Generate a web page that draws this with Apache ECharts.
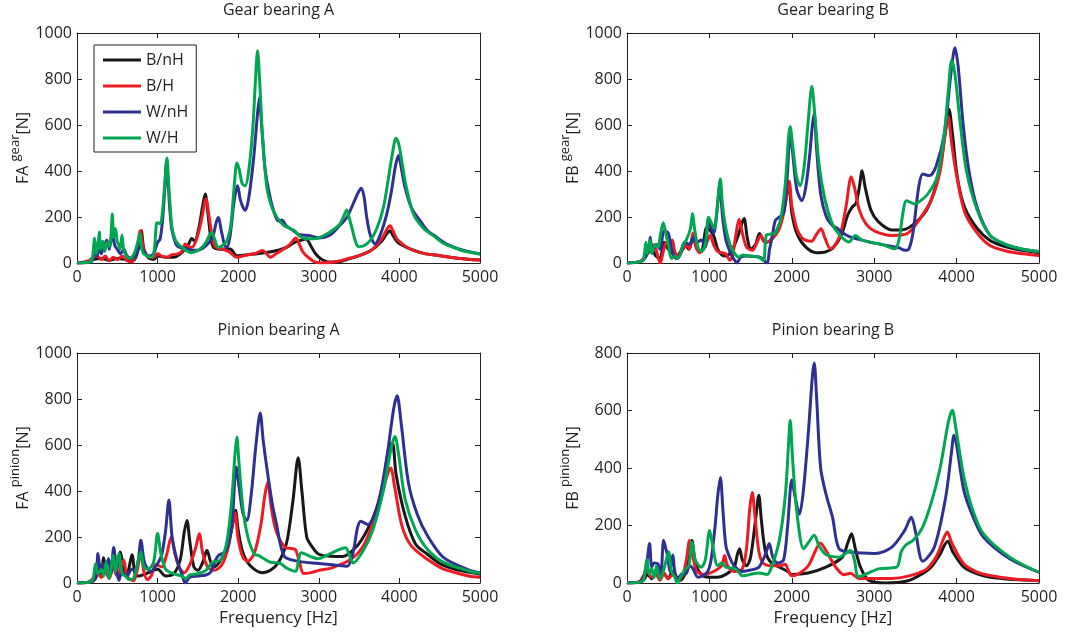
<!DOCTYPE html>
<html>
<head>
<meta charset="utf-8">
<script src="https://cdn.jsdelivr.net/npm/echarts@6/dist/echarts.min.js"></script>
<style>
  html, body { margin: 0; background: #fff; }
  #chart { width: 1070px; height: 632px; }
</style>
</head>
<body>
<div id="chart"></div>
<script>
// series names / colours
const seriesNames = ['B/nH', 'B/H', 'W/nH', 'W/H'];
const seriesColors = ['#1a1718', '#ed1c24', '#2e3192', '#00a651'];

const panelTitles = ['Gear bearing A', 'Gear bearing B', 'Pinion bearing A', 'Pinion bearing B'];
const yPrefix = ['FA', 'FB', 'FA', 'FB'];
const ySup = ['gear', 'gear', 'pinion', 'pinion'];
const yMax = [1000, 1000, 1000, 800];
const yStep = 200;
const xMax = 5000;
const xStep = 1000;

// ---- Gear bearing A ----
const gearA_BnH = [[0,0],[150,5],[200,15],[300,20],[400,12],[500,20],[600,15],[700,10],[760,60],[797,140],[830,60],[880,25],[950,15],[1000,30],[1100,25],[1200,25],[1300,45],[1380,80],[1425,107],[1460,95],[1510,150],[1560,250],[1591,300],[1620,230],[1660,110],[1694,68],[1780,60],[1900,61],[1983,32],[2100,35],[2300,43],[2450,52],[2600,68],[2700,90],[2790,100],[2843,104],[2900,75],[2960,40],[3037,15],[3150,3],[3250,5],[3350,15],[3500,32],[3650,55],[3780,95],[3850,130],[3884,140],[3920,120],[3980,90],[4132,61],[4300,42],[4500,32],[4750,20],[5000,13]];
const gearA_BH = [[0,0],[150,10],[200,25],[250,30],[300,15],[350,30],[400,10],[450,25],[500,15],[560,30],[620,10],[680,5],[740,50],[785,140],[820,70],[870,30],[950,25],[1000,40],[1050,30],[1120,25],[1170,35],[1250,40],[1300,50],[1343,83],[1390,70],[1425,68],[1480,100],[1540,180],[1600,278],[1640,200],[1694,83],[1740,65],[1800,61],[1880,50],[1983,25],[2100,35],[2200,40],[2300,54],[2340,45],[2397,25],[2470,40],[2560,60],[2640,80],[2715,109],[2760,80],[2800,50],[2850,30],[2950,5],[3058,0],[3200,5],[3350,18],[3500,32],[3650,55],[3780,105],[3850,150],[3884,162],[3920,140],[3980,100],[4132,61],[4300,42],[4500,32],[4750,20],[5000,13]];
const gearA_WnH = [[0,0],[150,3],[200,15],[230,60],[250,30],[280,80],[300,40],[330,70],[370,100],[400,60],[430,120],[446,133],[465,80],[500,60],[540,40],[580,60],[620,30],[680,20],[740,40],[780,80],[810,60],[850,40],[900,30],[950,40],[1000,90],[1030,104],[1060,180],[1090,330],[1110,440],[1135,320],[1170,160],[1210,100],[1240,75],[1300,65],[1380,60],[1450,55],[1530,58],[1600,75],[1680,110],[1730,180],[1756,198],[1785,150],[1830,80],[1860,68],[1900,120],[1950,270],[1992,336],[2030,270],[2087,228],[2130,280],[2190,450],[2240,650],[2264,720],[2290,600],[2330,420],[2355,358],[2420,250],[2479,190],[2510,182],[2541,187],[2600,160],[2686,140],[2752,124],[2893,119],[2992,109],[3140,122],[3250,160],[3347,198],[3430,260],[3480,300],[3525,325],[3560,290],[3595,198],[3640,120],[3698,83],[3760,120],[3843,213],[3900,310],[3950,420],[3988,467],[4020,420],[4070,329],[4150,240],[4256,184],[4350,140],[4450,115],[4600,80],[4800,55],[5000,39]];
const gearA_WH = [[0,0],[150,3],[190,20],[219,108],[240,40],[262,80],[277,135],[292,60],[320,95],[345,50],[370,90],[400,70],[420,110],[438,213],[455,110],[470,150],[483,140],[500,90],[517,80],[535,60],[558,122],[578,60],[612,30],[650,20],[682,25],[720,50],[760,100],[777,128],[795,80],[826,40],[880,30],[930,25],[960,60],[985,170],[1000,175],[1033,170],[1060,220],[1090,350],[1116,456],[1140,330],[1178,155],[1220,100],[1260,80],[1300,68],[1350,55],[1405,46],[1470,50],[1530,61],[1600,90],[1650,125],[1674,133],[1700,110],[1756,68],[1800,75],[1860,97],[1910,170],[1950,330],[1983,435],[2010,410],[2050,345],[2087,336],[2130,400],[2180,580],[2215,800],[2240,923],[2265,800],[2300,560],[2355,329],[2420,240],[2479,200],[2560,165],[2645,150],[2700,140],[2769,115],[2851,105],[2992,109],[3099,126],[3200,150],[3264,170],[3310,205],[3347,230],[3375,200],[3409,155],[3450,100],[3492,71],[3560,75],[3636,97],[3720,150],[3802,242],[3860,360],[3905,459],[3959,542],[3990,520],[4029,445],[4080,340],[4174,213],[4300,150],[4421,119],[4550,85],[4669,68],[4800,52],[5000,39]];

// ---- Gear bearing B ----
const gearB_BnH = [[0,0],[150,5],[200,15],[250,40],[300,60],[350,30],[400,20],[450,90],[500,60],[550,40],[600,25],[650,50],[700,80],[750,60],[800,110],[850,60],[900,50],[970,155],[1050,120],[1100,60],[1150,35],[1200,30],[1280,60],[1350,120],[1420,193],[1460,110],[1500,60],[1560,80],[1608,128],[1660,95],[1700,90],[1800,130],[1880,200],[1940,300],[1965,345],[2000,220],[2060,130],[2168,70],[2300,45],[2408,48],[2500,65],[2600,120],[2680,210],[2733,243],[2780,260],[2820,330],[2853,401],[2890,330],[2960,230],[3050,180],[3211,144],[3350,145],[3500,175],[3650,240],[3780,380],[3860,560],[3908,668],[3950,560],[4010,370],[4100,240],[4250,150],[4406,98],[4600,70],[4800,55],[5000,45]];
const gearB_BH = [[0,0],[150,5],[200,20],[250,50],[300,80],[350,60],[380,20],[404,0],[440,50],[480,90],[520,80],[550,100],[580,50],[620,30],[680,60],[720,80],[760,60],[800,130],[840,70],[880,45],[930,60],[980,100],[1010,120],[1050,80],[1100,50],[1150,45],[1200,40],[1248,12],[1280,30],[1320,120],[1360,190],[1400,130],[1450,70],[1520,55],[1580,90],[1620,120],[1680,90],[1750,100],[1850,150],[1920,250],[1968,355],[2000,250],[2060,150],[2120,110],[2168,99],[2240,95],[2300,125],[2356,149],[2400,110],[2468,62],[2530,80],[2600,140],[2660,250],[2721,375],[2760,330],[2820,230],[2900,170],[3000,140],[3211,120],[3400,128],[3550,190],[3700,280],[3800,400],[3860,560],[3896,637],[3940,520],[4000,380],[4100,220],[4250,130],[4406,76],[4600,52],[4800,40],[5000,33]];
const gearB_WnH = [[0,0],[150,5],[200,15],[260,60],[283,112],[300,50],[330,70],[360,80],[400,60],[450,140],[500,130],[550,50],[600,20],[650,40],[700,90],[760,80],[800,110],[850,90],[900,100],[950,70],[990,180],[1050,130],[1090,220],[1125,340],[1160,200],[1200,100],[1260,40],[1300,15],[1334,0],[1380,25],[1450,30],[1550,28],[1620,25],[1698,0],[1730,60],[1760,110],[1800,185],[1850,200],[1900,215],[1940,350],[1980,560],[2010,480],[2060,320],[2122,271],[2170,330],[2220,480],[2250,600],[2272,648],[2300,500],[2350,300],[2420,200],[2500,160],[2547,152],[2620,130],[2700,115],[2900,95],[3100,80],[3300,66],[3370,55],[3420,60],[3470,130],[3540,330],[3590,387],[3669,380],[3750,420],[3850,560],[3930,820],[3980,936],[4020,850],[4080,600],[4150,400],[4250,240],[4406,120],[4600,80],[4800,60],[5000,50]];
const gearB_WH = [[0,0],[150,5],[200,15],[230,90],[250,40],[280,100],[300,40],[340,80],[380,70],[400,110],[440,175],[470,130],[500,80],[540,20],[580,30],[620,20],[680,80],[720,100],[770,150],[795,215],[820,150],[860,70],[900,50],[950,80],[990,199],[1030,170],[1060,150],[1100,260],[1132,365],[1160,250],[1200,150],[1260,70],[1320,35],[1360,25],[1400,35],[1500,30],[1600,25],[1657,10],[1690,120],[1750,126],[1800,130],[1870,200],[1920,340],[1980,593],[2020,480],[2060,370],[2102,336],[2150,420],[2200,620],[2243,767],[2280,640],[2330,430],[2400,280],[2480,180],[2560,130],[2693,91],[2773,120],[2850,100],[2950,90],[3100,80],[3251,62],[3300,100],[3350,220],[3390,271],[3490,257],[3560,270],[3650,300],[3760,370],[3850,560],[3900,750],[3940,882],[3980,820],[4040,620],[4120,400],[4250,230],[4406,120],[4600,80],[4800,60],[5000,50]];

// ---- Pinion bearing A ----
const pinA_BnH = [[0,0],[150,3],[230,20],[260,60],[300,30],[330,110],[360,50],[400,40],[450,100],[480,40],[537,135],[580,60],[620,40],[682,123],[720,40],[760,30],[850,40],[920,50],[1000,60],[1100,30],[1200,40],[1280,100],[1330,220],[1364,272],[1400,180],[1450,70],[1500,55],[1560,90],[1612,142],[1660,90],[1700,70],[1800,110],[1880,180],[1935,260],[1967,316],[2000,230],[2060,130],[2150,75],[2300,45],[2400,55],[2500,90],[2600,174],[2680,360],[2744,545],[2790,400],[2850,200],[2912,160],[3000,125],[3152,116],[3300,115],[3472,160],[3600,230],[3712,320],[3800,440],[3870,590],[3912,610],[3960,470],[4072,291],[4200,170],[4352,124],[4500,85],[4700,58],[4872,47],[5000,38]];
const pinA_BH = [[0,0],[150,5],[200,20],[260,40],[300,25],[350,50],[400,20],[450,70],[500,30],[578,100],[620,30],[700,10],[750,60],[790,130],[830,50],[870,15],[920,30],[980,80],[1050,70],[1110,120],[1169,200],[1220,120],[1280,60],[1330,45],[1400,80],[1470,150],[1517,214],[1560,130],[1620,70],[1700,55],[1800,80],[1880,160],[1930,260],[1960,305],[2000,190],[2060,110],[2120,95],[2200,130],[2280,250],[2330,380],[2368,440],[2410,330],[2472,225],[2592,153],[2660,150],[2712,145],[2760,90],[2812,41],[2900,45],[3000,55],[3152,65],[3392,102],[3550,160],[3672,262],[3780,380],[3850,470],[3892,500],[3940,420],[4032,247],[4150,160],[4352,102],[4550,60],[4872,29],[5000,25]];
const pinA_WnH = [[0,0],[150,3],[200,10],[240,40],[260,128],[290,60],[320,84],[350,60],[392,106],[420,40],[455,154],[490,60],[520,12],[560,50],[620,30],[680,60],[720,55],[760,100],[792,186],[830,100],[860,70],[920,50],[970,70],[1000,84],[1050,120],[1100,230],[1140,361],[1180,200],[1240,99],[1300,40],[1343,0],[1400,25],[1500,30],[1600,35],[1660,48],[1720,100],[1760,121],[1850,140],[1920,250],[1975,504],[2010,420],[2060,300],[2107,272],[2160,380],[2220,600],[2273,739],[2310,620],[2352,509],[2420,350],[2472,262],[2572,116],[2752,94],[3000,85],[3200,78],[3352,73],[3424,131],[3480,240],[3520,269],[3612,254],[3700,300],[3752,363],[3850,560],[3930,760],[3972,814],[4020,700],[4112,436],[4220,300],[4352,203],[4550,110],[4872,55],[5000,45]];
const pinA_WH = [[0,0],[150,3],[200,20],[230,84],[260,40],[300,60],[330,30],[360,90],[400,20],[450,120],[480,50],[520,128],[560,40],[600,30],[650,15],[700,20],[750,80],[792,135],[830,70],[880,60],[950,90],[1000,215],[1040,130],[1100,60],[1200,40],[1300,30],[1350,20],[1400,35],[1500,40],[1600,55],[1680,90],[1780,100],[1860,180],[1920,360],[1960,560],[1983,635],[2010,520],[2060,320],[2120,200],[2200,125],[2250,120],[2300,110],[2400,90],[2512,87],[2600,65],[2665,55],[2712,51],[2784,131],[2900,115],[2992,105],[3100,120],[3250,145],[3332,153],[3380,120],[3424,87],[3550,140],[3672,233],[3800,400],[3900,590],[3944,637],[3990,560],[4072,363],[4200,230],[4352,145],[4550,90],[4872,51],[5000,42]];

// ---- Pinion bearing B ----
const pinB_BnH = [[0,0],[150,3],[200,10],[250,30],[300,15],[350,40],[400,20],[450,30],[500,15],[550,40],[600,20],[650,10],[700,30],[750,80],[788,148],[830,70],[900,30],[1000,20],[1100,20],[1200,30],[1300,55],[1340,100],[1366,119],[1400,80],[1450,60],[1500,90],[1560,220],[1600,305],[1630,220],[1680,110],[1750,70],[1850,55],[1950,40],[2000,30],[2200,35],[2414,55],[2613,90],[2680,140],[2725,171],[2770,120],[2833,55],[2932,10],[3131,0],[3410,8],[3600,35],[3689,55],[3800,100],[3860,135],[3896,145],[3950,110],[4088,55],[4250,32],[4406,20],[4700,12],[5000,8]];
const pinB_BH = [[0,0],[150,5],[200,25],[250,40],[300,20],[350,30],[400,10],[450,35],[500,15],[560,30],[620,10],[680,30],[720,80],[760,148],[800,90],[850,40],[950,30],[1050,40],[1150,60],[1184,96],[1220,60],[1300,40],[1400,50],[1450,120],[1490,260],[1520,315],[1550,240],[1600,110],[1650,70],[1750,60],[1850,60],[1920,65],[1950,50],[2000,25],[2100,35],[2200,60],[2300,120],[2345,139],[2414,113],[2533,55],[2633,29],[2713,34],[2813,16],[3211,16],[3609,43],[3750,90],[3850,160],[3888,177],[3940,140],[4088,66],[4250,38],[4406,26],[4700,14],[5000,8]];
const pinB_WnH = [[0,0],[150,3],[200,20],[240,70],[274,137],[300,56],[330,70],[375,67],[410,30],[444,149],[470,120],[496,91],[520,40],[556,97],[580,40],[617,15],[660,30],[718,33],[760,60],[800,50],[860,20],[920,25],[980,40],[1020,80],[1070,200],[1100,300],[1133,367],[1165,250],[1202,126],[1260,80],[1300,60],[1400,40],[1500,45],[1600,55],[1680,100],[1726,137],[1770,90],[1830,70],[1900,80],[1950,200],[2000,358],[2040,300],[2093,239],[2140,320],[2200,520],[2250,720],[2272,765],[2300,650],[2350,400],[2414,310],[2494,229],[2574,119],[2733,107],[3012,103],[3211,124],[3370,183],[3450,229],[3500,180],[3590,76],[3729,124],[3868,299],[3940,460],[3968,514],[4000,480],[4088,322],[4200,230],[4327,159],[4645,84],[5000,37]];
const pinB_WH = [[0,0],[150,3],[200,10],[243,81],[270,30],[300,50],[330,20],[360,60],[400,15],[450,50],[505,108],[540,40],[580,20],[610,0],[650,20],[700,45],[750,60],[788,143],[830,80],[900,55],[950,80],[1003,183],[1040,130],[1100,60],[1150,70],[1200,55],[1300,50],[1350,40],[1400,25],[1500,30],[1600,35],[1700,30],[1760,60],[1850,150],[1920,300],[1960,480],[1980,566],[2010,430],[2060,250],[2143,119],[2200,140],[2272,166],[2330,130],[2414,99],[2574,90],[2713,113],[2760,80],[2813,22],[3052,49],[3271,55],[3330,110],[3390,134],[3470,148],[3580,190],[3689,276],[3800,400],[3900,560],[3948,601],[3990,540],[4088,369],[4200,250],[4327,171],[4645,90],[5000,37]];

const panelData = [
  [gearA_BnH, gearA_BH, gearA_WnH, gearA_WH],
  [gearB_BnH, gearB_BH, gearB_WnH, gearB_WH],
  [pinA_BnH, pinA_BH, pinA_WnH, pinA_WH],
  [pinB_BnH, pinB_BH, pinB_WnH, pinB_WH]
];

const FONT = '"Open Sans", "DejaVu Sans", sans-serif';
const INK = '#231f20';

const grids = [
  { left: 77, top: 33, width: 403, height: 230 },
  { left: 627, top: 33, width: 412, height: 230 },
  { left: 77, top: 353, width: 403, height: 230 },
  { left: 627, top: 353, width: 412, height: 230 }
];

const axisLine = { show: true, onZero: false, lineStyle: { color: INK, width: 1 } };
const axisTick = { show: true, inside: true, length: 5, lineStyle: { color: INK, width: 1 } };
const plainNum = (v) => String(v);

const xAxis = [];
const yAxis = [];
grids.forEach((g, i) => {
  xAxis.push({
    type: 'value', gridIndex: i, min: 0, max: xMax, interval: xStep,
    axisLine, axisTick, splitLine: { show: false },
    axisLabel: { fontSize: 16, color: INK, margin: 6, fontFamily: FONT, formatter: plainNum },
    name: i >= 2 ? 'Frequency [Hz]' : '',
    nameLocation: 'middle', nameGap: 27,
    nameTextStyle: { fontSize: 17, color: INK, fontFamily: FONT }
  });
  yAxis.push({
    type: 'value', gridIndex: i, min: 0, max: yMax[i], interval: yStep,
    axisLine, axisTick, splitLine: { show: false },
    axisLabel: { fontSize: 16, color: INK, margin: 5, fontFamily: FONT, formatter: plainNum },
    name: '{a|' + yPrefix[i] + ' }{b|' + ySup[i] + '}{a|[N]}',
    nameLocation: 'middle', nameGap: 46,
    nameTextStyle: {
      fontFamily: FONT, color: INK,
      rich: {
        a: { fontSize: 16, fontFamily: FONT, color: INK, verticalAlign: 'bottom' },
        b: { fontSize: 13, fontFamily: FONT, color: INK, padding: [0, 0, 9, 0], verticalAlign: 'bottom' }
      }
    }
  });
});
// box: top and right axes with inward ticks
grids.forEach((g, i) => {
  xAxis.push({
    type: 'value', gridIndex: i, position: 'top', min: 0, max: xMax, interval: xStep,
    axisLine, axisTick, axisLabel: { show: false }, splitLine: { show: false }
  });
  yAxis.push({
    type: 'value', gridIndex: i, position: 'right', min: 0, max: yMax[i], interval: yStep,
    axisLine, axisTick, axisLabel: { show: false }, splitLine: { show: false }
  });
});

const series = [];
panelData.forEach((lines, i) => {
  lines.forEach((data, k) => {
    series.push({
      type: 'line', name: seriesNames[k],
      xAxisIndex: i, yAxisIndex: i,
      data: data,
      symbol: 'none', showSymbol: false,
      smooth: 0.3,
      lineStyle: { width: 3, color: seriesColors[k] },
      itemStyle: { color: seriesColors[k] }
    });
  });
});

const titles = panelTitles.map((t, i) => ({
  text: t,
  left: grids[i].left + grids[i].width / 2,
  top: i < 2 ? 2 : 322,
  textAlign: 'center',
  padding: 0,
  textStyle: { fontSize: 16, fontWeight: 'normal', color: INK, fontFamily: FONT }
}));

const chart = echarts.init(document.getElementById('chart'));
chart.setOption({
  animation: false,
  backgroundColor: '#fff',
  title: titles,
  grid: grids,
  xAxis: xAxis,
  yAxis: yAxis,
  legend: {
    data: seriesNames,
    orient: 'vertical',
    left: 94, top: 45,
    padding: [7, 8, 6, 9],
    icon: 'rect',
    itemWidth: 38, itemHeight: 3, itemGap: 10,
    borderColor: INK, borderWidth: 1, borderRadius: 0,
    backgroundColor: '#fff',
    textStyle: { fontSize: 16, color: INK, fontFamily: FONT }
  },
  series: series
});
</script>
</body>
</html>
